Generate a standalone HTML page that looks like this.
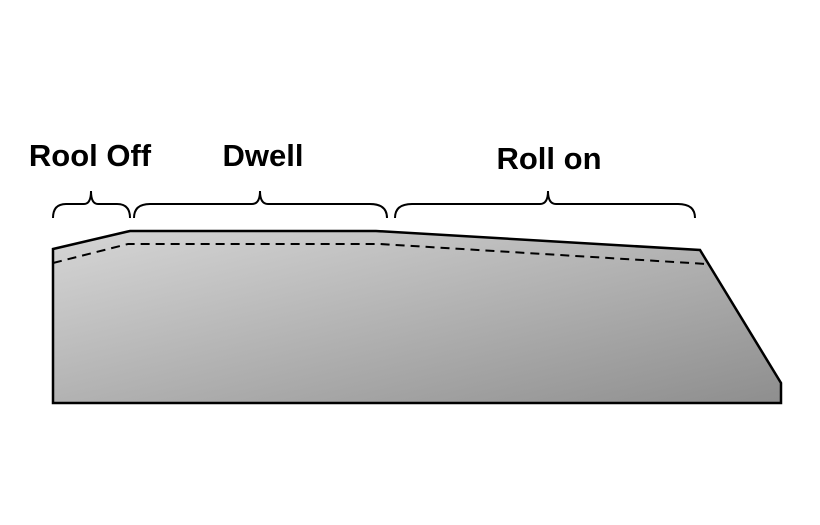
<!DOCTYPE html>
<html><head><style>body{margin:0;background:#fff}</style></head><body>
<svg width="820" height="520" xmlns="http://www.w3.org/2000/svg">
<defs><linearGradient id="g" x1="0" y1="0" x2="1" y2="1" gradientUnits="objectBoundingBox">
<stop offset="0" stop-color="#d6d6d6"/><stop offset="1" stop-color="#8e8e8e"/></linearGradient></defs>
<polygon points="53,249 130,231 376,231 700,250 781,383 781,403 53,403" fill="url(#g)" stroke="#000" stroke-width="2.5"/>
<polyline points="53,263 128,244 380,244 707,264" fill="none" stroke="#000" stroke-width="2" stroke-dasharray="9,6"/>
<g fill="none" stroke="#000" stroke-width="2">
<path d="M53,218 Q53,204 66,204 L84,204 Q91,204 91,191 Q91,204 98,204 L117,204 Q130,204 130,218"/>
<path d="M134,218 Q134,204 150,204 L252,204 Q260,204 260,191 Q260,204 268,204 L370,204 Q387,204 387,218"/>
<path d="M395,218 Q395,204 412,204 L540,204 Q548,204 548,191 Q548,204 556,204 L678,204 Q695,204 695,218"/>
</g>
<g font-family="Liberation Sans, sans-serif" font-weight="bold" font-size="31" text-anchor="middle" fill="#000">
<text x="90" y="166">Rool Off</text>
<text x="263" y="166">Dwell</text>
<text x="549" y="169">Roll on</text>
</g>
</svg>
</body></html>
